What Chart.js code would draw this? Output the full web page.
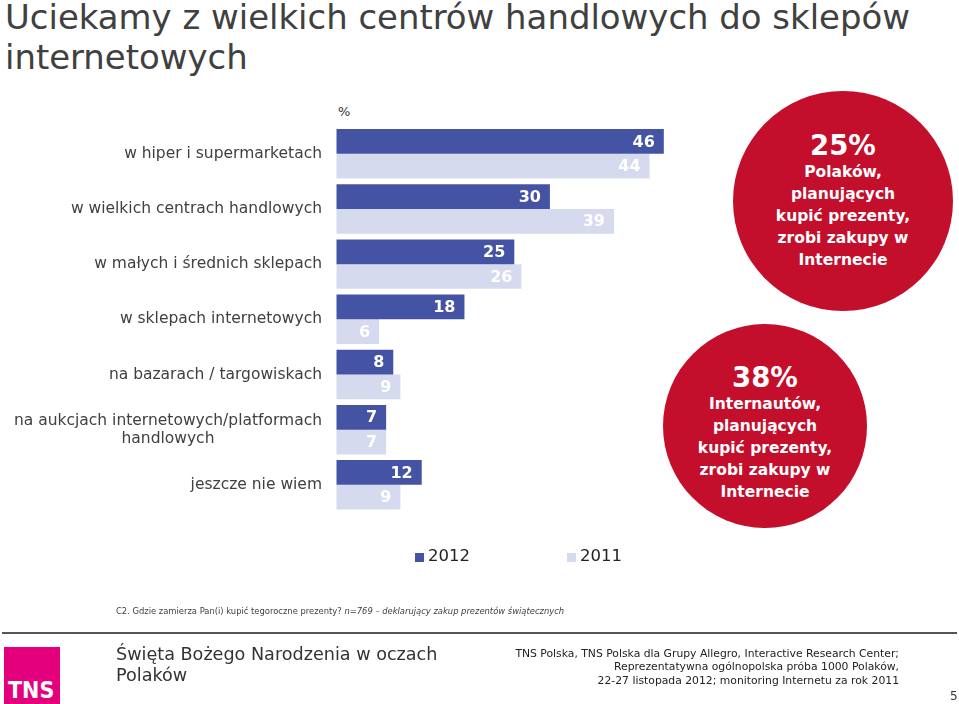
<!DOCTYPE html>
<html>
<head>
<meta charset="utf-8">
<script src="https://cdn.jsdelivr.net/npm/chart.js@4.4.1/dist/chart.umd.min.js"></script>
<style>
  html, body { margin:0; padding:0; background:#fff; }
  body { width:959px; height:704px; position:relative; overflow:hidden; font-family:"DejaVu Sans", Verdana, sans-serif; }
  #c { position:absolute; left:0; top:0; }
  .abs { position:absolute; white-space:nowrap; }
  #title { left:5px; top:-3px; font-family:"DejaVu Sans Condensed","DejaVu Sans",sans-serif; font-size:34px; color:#404040; line-height:40px; transform-origin:0 0; }
  .circle { position:absolute; border-radius:50%; background:#C40F2C; }
  .ctext { position:absolute; color:#fff; font-weight:bold; text-align:center; transform:translateX(-50%); white-space:nowrap; }
  .ctext .big { font-size:27.5px; line-height:32px; display:block; }
  .ctext .ln { font-size:15.5px; line-height:22px; display:block; }
  #legend { left:0; top:546px; font-size:16.5px; color:#222; }
  .sw { position:absolute; width:9px; height:9px; }
  #foot { left:116px; top:606px; font-size:8.4px; color:#404040; }
  #hr { position:absolute; left:2px; top:632px; width:955px; height:2px; background:#555; }
  #logo { position:absolute; left:4px; top:647px; width:56px; height:57px; background:#E4007C; }
  #logo span { position:absolute; left:4px; bottom:1px; color:#fff; font-weight:bold; font-family:"DejaVu Sans Condensed","DejaVu Sans",sans-serif; font-size:23px; }
  #ftitle { left:116px; top:644px; font-size:17.6px; color:#333; line-height:21px; }
  #fright { right:60px; top:647px; font-size:10.8px; color:#222; line-height:13.3px; text-align:right; }
  #pnum { left:950px; top:689px; font-size:12px; color:#333; }
</style>
</head>
<body>
<div id="title" class="abs">Uciekamy z wielkich centrów handlowych do sklepów<br>internetowych</div>
<div class="abs" style="left:338px; top:104px; font-size:13px; color:#333;">%</div>

<div class="circle" style="left:733px; top:91px; width:220px; height:220px;"></div>
<div class="ctext" style="left:843px; top:129px;">
  <span class="big">25%</span>
  <span class="ln">Polaków,</span>
  <span class="ln">planujących</span>
  <span class="ln">kupić prezenty,</span>
  <span class="ln">zrobi zakupy w</span>
  <span class="ln">Internecie</span>
</div>

<div class="circle" style="left:663px; top:324px; width:204px; height:204px;"></div>
<div class="ctext" style="left:765px; top:361px;">
  <span class="big">38%</span>
  <span class="ln">Internautów,</span>
  <span class="ln">planujących</span>
  <span class="ln">kupić prezenty,</span>
  <span class="ln">zrobi zakupy w</span>
  <span class="ln">Internecie</span>
</div>

<canvas id="c" width="959" height="704"></canvas>

<div id="legend" class="abs"></div>

<div id="foot" class="abs">C2. Gdzie zamierza Pan(i) kupić tegoroczne prezenty? <i>n=769 – deklarujący zakup prezentów świątecznych</i></div>
<div id="hr"></div>
<div id="logo"><span>TNS</span></div>
<div id="ftitle" class="abs">Święta Bożego Narodzenia w oczach<br>Polaków</div>
<div id="fright" class="abs">TNS Polska, TNS Polska dla Grupy Allegro, Interactive Research Center;<br>Reprezentatywna ogólnopolska próba 1000 Polaków,<br>22-27 listopada 2012; monitoring Internetu za rok 2011</div>
<div id="pnum" class="abs">5</div>

<script>
const categories = [
  ['w hiper i supermarketach'],
  ['w wielkich centrach handlowych'],
  ['w małych i średnich sklepach'],
  ['w sklepach internetowych'],
  ['na bazarach / targowiskach'],
  ['na aukcjach internetowych/platformach', 'handlowych'],
  ['jeszcze nie wiem']
];
const seriesNames = ['2012', '2011'];
const values2012 = [46, 30, 25, 18, 8, 7, 12];
const values2011 = [44, 39, 26, 6, 9, 7, 9];
const seriesColors = ['#4453A4', '#D5DAEE'];

// fit title width
(function(){
  const t = document.getElementById('title');
  const w = t.getBoundingClientRect().width;
  t.style.transform = 'scaleX(' + (905 / w) + ')';
})();

// legend
(function(){
  const lg = document.getElementById('legend');
  const xs = [415, 567];
  seriesNames.forEach((n, i) => {
    const sw = document.createElement('div');
    sw.className = 'sw';
    sw.style.left = xs[i] + 'px';
    sw.style.top = '7px';
    sw.style.background = seriesColors[i];
    lg.appendChild(sw);
    const tx = document.createElement('div');
    tx.className = 'abs';
    tx.style.left = (xs[i] + 13) + 'px';
    tx.style.top = '0px';
    tx.textContent = n;
    lg.appendChild(tx);
  });
})();

const valueLabels = {
  id: 'valueLabels',
  afterDatasetsDraw(chart) {
    const ctx = chart.ctx;
    ctx.save();
    ctx.font = 'bold 16px "DejaVu Sans"';
    ctx.fillStyle = '#ffffff';
    ctx.textAlign = 'right';
    ctx.textBaseline = 'middle';
    chart.data.datasets.forEach((ds, i) => {
      const meta = chart.getDatasetMeta(i);
      meta.data.forEach((bar, j) => {
        ctx.fillText(String(ds.data[j]), bar.x - 9, bar.y + 1);
      });
    });
    ctx.restore();
  }
};

const catLabels = {
  id: 'catLabels',
  afterDraw(chart) {
    const ctx = chart.ctx;
    const ys = chart.scales.y;
    ctx.save();
    ctx.font = '15.5px "DejaVu Sans"';
    ctx.fillStyle = '#404040';
    ctx.textBaseline = 'middle';
    ctx.textAlign = 'center';
    const right = 322;
    const lh = 18;
    chart.data.labels.forEach((lines, i) => {
      const yc = ys.getPixelForValue(i);
      const wmax = Math.max(...lines.map(l => ctx.measureText(l).width));
      const cx = right - wmax / 2;
      const y0 = yc - (lines.length - 1) * lh / 2;
      lines.forEach((l, k) => ctx.fillText(l, cx, y0 + k * lh));
    });
    ctx.restore();
  }
};

const xMax = 80;
const pxPerUnit = 7.12;
const areaLeft = 336.3, areaTop = 126.2, areaBottom = 512.4;

new Chart(document.getElementById('c'), {
  type: 'bar',
  data: {
    labels: categories,
    datasets: [
      { label: seriesNames[0], data: values2012, backgroundColor: seriesColors[0], borderWidth: 0, categoryPercentage: 0.897, barPercentage: 1.0 },
      { label: seriesNames[1], data: values2011, backgroundColor: seriesColors[1], borderWidth: 0, categoryPercentage: 0.897, barPercentage: 1.0 }
    ]
  },
  options: {
    indexAxis: 'y',
    responsive: false,
    animation: false,
    layout: { padding: { left: 0, top: areaTop, bottom: 704 - areaBottom, right: 959 - (areaLeft + xMax * pxPerUnit) } },
    plugins: { legend: { display: false }, tooltip: { enabled: false } },
    scales: {
      x: { display: false, min: 0, max: xMax },
      y: {
        grid: { display: false, drawTicks: false },
        border: { display: false },
        ticks: { display: false },
        afterFit(scale) { scale.width = areaLeft; }
      }
    }
  },
  plugins: [valueLabels, catLabels]
});
</script>
</body>
</html>
